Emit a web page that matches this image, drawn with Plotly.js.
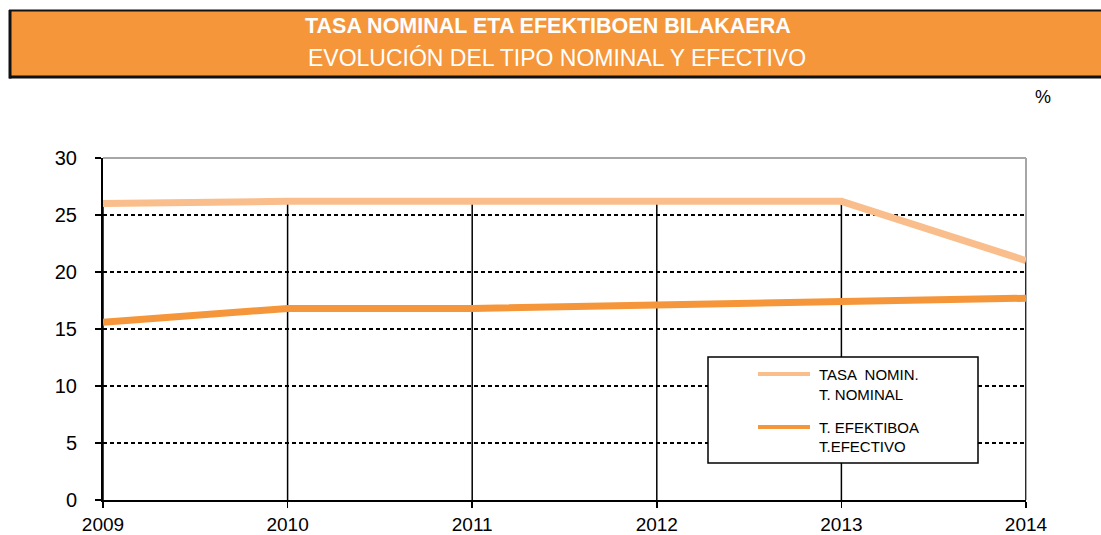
<!DOCTYPE html>
<html>
<head>
<meta charset="utf-8">
<script src="https://cdn.plot.ly/plotly-3.0.1.min.js"></script>
<style>html,body{margin:0;padding:0;background:#fff;}#chart{width:1101px;height:535px;}</style>
</head>
<body>
<div id="chart"></div>
<script>
// ---- data ----
const years = [2009, 2010, 2011, 2012, 2013, 2014];
const nominal = [26.0, 26.2, 26.2, 26.2, 26.2, 21.0];
const effective = [15.6, 16.8, 16.8, 17.1, 17.3, 17.7];
const nominalLabel = ["TASA  NOMIN.", "T. NOMINAL"];
const effectiveLabel = ["T. EFEKTIBOA", "T.EFECTIVO"];
const titleEu = "TASA NOMINAL ETA EFEKTIBOEN BILAKAERA";
const titleEs = "EVOLUCIÓN DEL TIPO NOMINAL Y EFECTIVO";
const unitLabel = "%";
const yTicks = [0, 5, 10, 15, 20, 25, 30];

const cNom = "#F9BE8B";
const cEff = "#F5963A";
const font = "Liberation Sans, Arial, sans-serif";

// drop lines from 0 to the max series value at each year
const dx = [], dy = [];
years.forEach((yr, i) => {
  dx.push(yr, yr, null);
  dy.push(0, Math.max(nominal[i], effective[i]), null);
});

const traces = [
  {x: dx, y: dy, mode: "lines", line: {color: "#000", width: 1.5}, hoverinfo: "skip", showlegend: false},
  {x: years, y: nominal, mode: "lines", name: nominalLabel.join(" "), line: {color: cNom, width: 7}, showlegend: false},
  {x: years, y: effective, mode: "lines", name: effectiveLabel.join(" "), line: {color: cEff, width: 7}, showlegend: false}
];

// pixel -> paper helpers (plot area: x 103..1026, y 158..500)
const L = 103, R = 1026, T = 158, B = 500;
const px = v => (v - L) / (R - L);
const py = v => (B - v) / (B - T);

const shapes = [
  // banner
  {type: "rect", xref: "paper", yref: "paper", x0: px(9), x1: px(1101), y0: py(78), y1: py(10), fillcolor: "#F5963B", line: {width: 0}, layer: "above"},
  {type: "line", xref: "paper", yref: "paper", x0: px(9), x1: px(1101), y0: py(10.5), y1: py(10.5), line: {color: "#111", width: 2}, layer: "above"},
  {type: "line", xref: "paper", yref: "paper", x0: px(9), x1: px(1101), y0: py(77), y1: py(77), line: {color: "#111", width: 3}, layer: "above"},
  {type: "line", xref: "paper", yref: "paper", x0: px(10), x1: px(10), y0: py(78.5), y1: py(10), line: {color: "#111", width: 3}, layer: "above"},
  // plot area top/right grey border
  {type: "line", xref: "paper", yref: "paper", x0: 0, x1: 1, y0: 1, y1: 1, line: {color: "#A6A6A6", width: 2}, layer: "above"},
  {type: "line", xref: "paper", yref: "paper", x0: 1, x1: 1, y0: 0, y1: 1, line: {color: "#A6A6A6", width: 2}, layer: "below"},
  // legend box
  {type: "rect", xref: "paper", yref: "paper", x0: px(708), x1: px(978), y0: py(463), y1: py(357), fillcolor: "#fff", line: {color: "#000", width: 1.5}, layer: "above"},
  {type: "line", xref: "paper", yref: "paper", x0: px(758), x1: px(810), y0: py(374), y1: py(374), line: {color: cNom, width: 4}, layer: "above"},
  {type: "line", xref: "paper", yref: "paper", x0: px(758), x1: px(810), y0: py(427), y1: py(427), line: {color: cEff, width: 4}, layer: "above"}
];

const ann = (text, x, y, opts) => Object.assign({text, xref: "paper", yref: "paper", x, y, showarrow: false, xanchor: "center", yanchor: "middle", font: {family: font, size: 15, color: "#000"}}, opts || {});

const annotations = [
  ann("<b>" + titleEu + "</b>", px(548), py(26), {font: {family: font, size: 21.5, color: "#fff"}}),
  ann(titleEs, px(557), py(58), {font: {family: font, size: 23, color: "#fff"}}),
  ann(unitLabel, px(1043), py(97), {font: {family: font, size: 18, color: "#000"}}),
  ann(nominalLabel[0], px(817), py(374), {xanchor: "left"}),
  ann(nominalLabel[1], px(817), py(394), {xanchor: "left"}),
  ann(effectiveLabel[0], px(817), py(427), {xanchor: "left"}),
  ann(effectiveLabel[1], px(817), py(446), {xanchor: "left"})
];

const layout = {
  width: 1101, height: 535,
  margin: {l: L, r: 1101 - R, t: T, b: 535 - B, pad: 0},
  paper_bgcolor: "#fff", plot_bgcolor: "rgba(0,0,0,0)",
  font: {family: font, size: 20, color: "#000"},
  showlegend: false,
  xaxis: {
    range: [2009, 2014], tickvals: years, ticktext: years.map(String),
    showline: true, linecolor: "#000", linewidth: 2,
    ticks: "outside", ticklen: 6, tickwidth: 1.5, tickcolor: "#000",
    showgrid: false, zeroline: false, tickfont: {size: 19}, ticklabelstandoff: 0
  },
  yaxis: {
    range: [0, 30], tickvals: yTicks,
    showline: true, linecolor: "#000", linewidth: 2,
    ticks: "outside", ticklen: 6, tickwidth: 1.5, tickcolor: "#000",
    showgrid: true, gridcolor: "#000", gridwidth: 1.5, griddash: "4px,3px",
    zeroline: false, tickfont: {size: 20}, ticklabelstandoff: 14
  },
  shapes, annotations
};

Plotly.newPlot("chart", traces, layout, {staticPlot: true, displayModeBar: false});
</script>
</body>
</html>
